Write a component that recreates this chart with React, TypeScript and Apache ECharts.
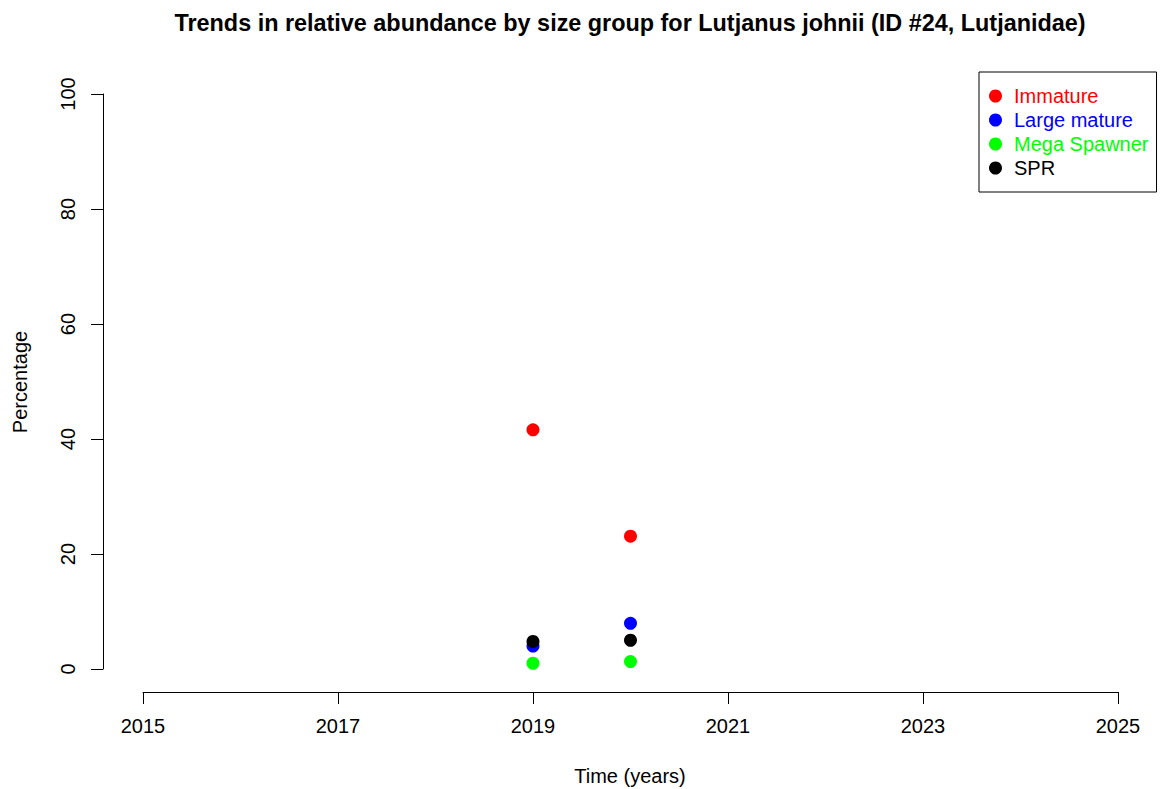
import React, { useEffect, useRef } from "react";
import * as echarts from "echarts";

const years = [2019, 2020];
const seriesNames = ["Immature", "Large mature", "Mega Spawner", "SPR"];
const immature = [41.6, 23.1];
const largeMature = [4.0, 7.95];
const megaSpawner = [1.0, 1.3];
const spr = [4.8, 5.0];
const seriesColors = ["#FF0000", "#0000FF", "#00FF00", "#000000"];
const xTicks = [2015, 2017, 2019, 2021, 2023, 2025];
const yTicks = [0, 20, 40, 60, 80, 100];

const FONT = "Liberation Sans, Arial, Helvetica, sans-serif";

export default function App() {
  const ref = useRef<HTMLDivElement>(null);
  useEffect(() => {
    if (!ref.current) return;
    const chart = echarts.init(ref.current, null, { renderer: "svg" });
    const values = [immature, largeMature, megaSpawner, spr];
    const series = seriesNames.map((name, i) => ({
      name,
      type: "scatter",
      xAxisIndex: 0,
      yAxisIndex: 0,
      symbol: "circle",
      symbolSize: 13,
      itemStyle: { color: seriesColors[i], opacity: 1 },
      emphasis: { disabled: true },
      data: years.map((y, j) => [y, values[i][j]]),
    }));
    chart.setOption({
      animation: false,
      backgroundColor: "#ffffff",
      textStyle: { fontFamily: FONT },
      grid: [
        { left: 104, right: 4, top: 71, bottom: 97 },
        { left: 143, width: 975, top: 71, bottom: 97 },
        { left: 103, width: 1000, top: 94, height: 575 },
      ],
      xAxis: [
        { gridIndex: 0, type: "value", min: 2014.6, max: 2025.4, show: false },
        {
          gridIndex: 1,
          type: "value",
          min: xTicks[0],
          max: xTicks[xTicks.length - 1],
          interval: 2,
          axisLine: { show: true, lineStyle: { color: "#000", width: 1 } },
          axisTick: { show: true, length: 12, lineStyle: { color: "#000" } },
          axisLabel: {
            fontSize: 20,
            color: "#000",
            margin: 24,
            fontFamily: FONT,
            formatter: (v: number) => String(v),
          },
          splitLine: { show: false },
        },
        { gridIndex: 2, type: "value", min: 0, max: 1, show: false },
      ],
      yAxis: [
        { gridIndex: 0, type: "value", min: -4, max: 104, show: false },
        { gridIndex: 1, type: "value", min: 0, max: 1, show: false },
        {
          gridIndex: 2,
          type: "value",
          min: yTicks[0],
          max: yTicks[yTicks.length - 1],
          interval: 20,
          axisLine: { show: true, lineStyle: { color: "#000", width: 1 } },
          axisTick: { show: true, length: 12, lineStyle: { color: "#000" } },
          axisLabel: {
            fontSize: 20,
            color: "#000",
            margin: 25,
            rotate: 90,
            fontFamily: FONT,
            formatter: (v: number) => String(v),
          },
          splitLine: { show: false },
        },
      ],
      legend: {
        orient: "vertical",
        left: 979,
        top: 72,
        padding: [14, 8, 14, 10],
        itemGap: 4,
        itemWidth: 13,
        itemHeight: 13,
        icon: "circle",
        borderColor: "#000",
        borderWidth: 1,
        borderRadius: 0,
        selectedMode: false,
        textStyle: { fontSize: 20, fontFamily: FONT, padding: [0, 0, 0, 7], lineHeight: 20 },
        data: seriesNames.map((n, i) => ({ name: n, textStyle: { color: seriesColors[i] } })),
      },
      graphic: [
        {
          type: "text",
          x: 630,
          y: 23,
          style: {
            text: "Trends in relative abundance by size group for Lutjanus johnii (ID #24, Lutjanidae)",
            font: "bold 23.4px " + FONT,
            fill: "#000",
            textAlign: "center",
            textVerticalAlign: "middle",
          },
        },
        {
          type: "text",
          x: 630,
          y: 776,
          style: {
            text: "Time (years)",
            font: "20px " + FONT,
            fill: "#000",
            textAlign: "center",
            textVerticalAlign: "middle",
          },
        },
        {
          type: "text",
          x: 20,
          y: 382,
          rotation: Math.PI / 2,
          style: {
            text: "Percentage",
            font: "20px " + FONT,
            fill: "#000",
            textAlign: "center",
            textVerticalAlign: "middle",
          },
        },
      ],
      series,
    });
    return () => chart.dispose();
  }, []);
  return <div ref={ref} style={{ width: 1161, height: 789, position: "absolute", left: 0, top: 0 }} />;
}
